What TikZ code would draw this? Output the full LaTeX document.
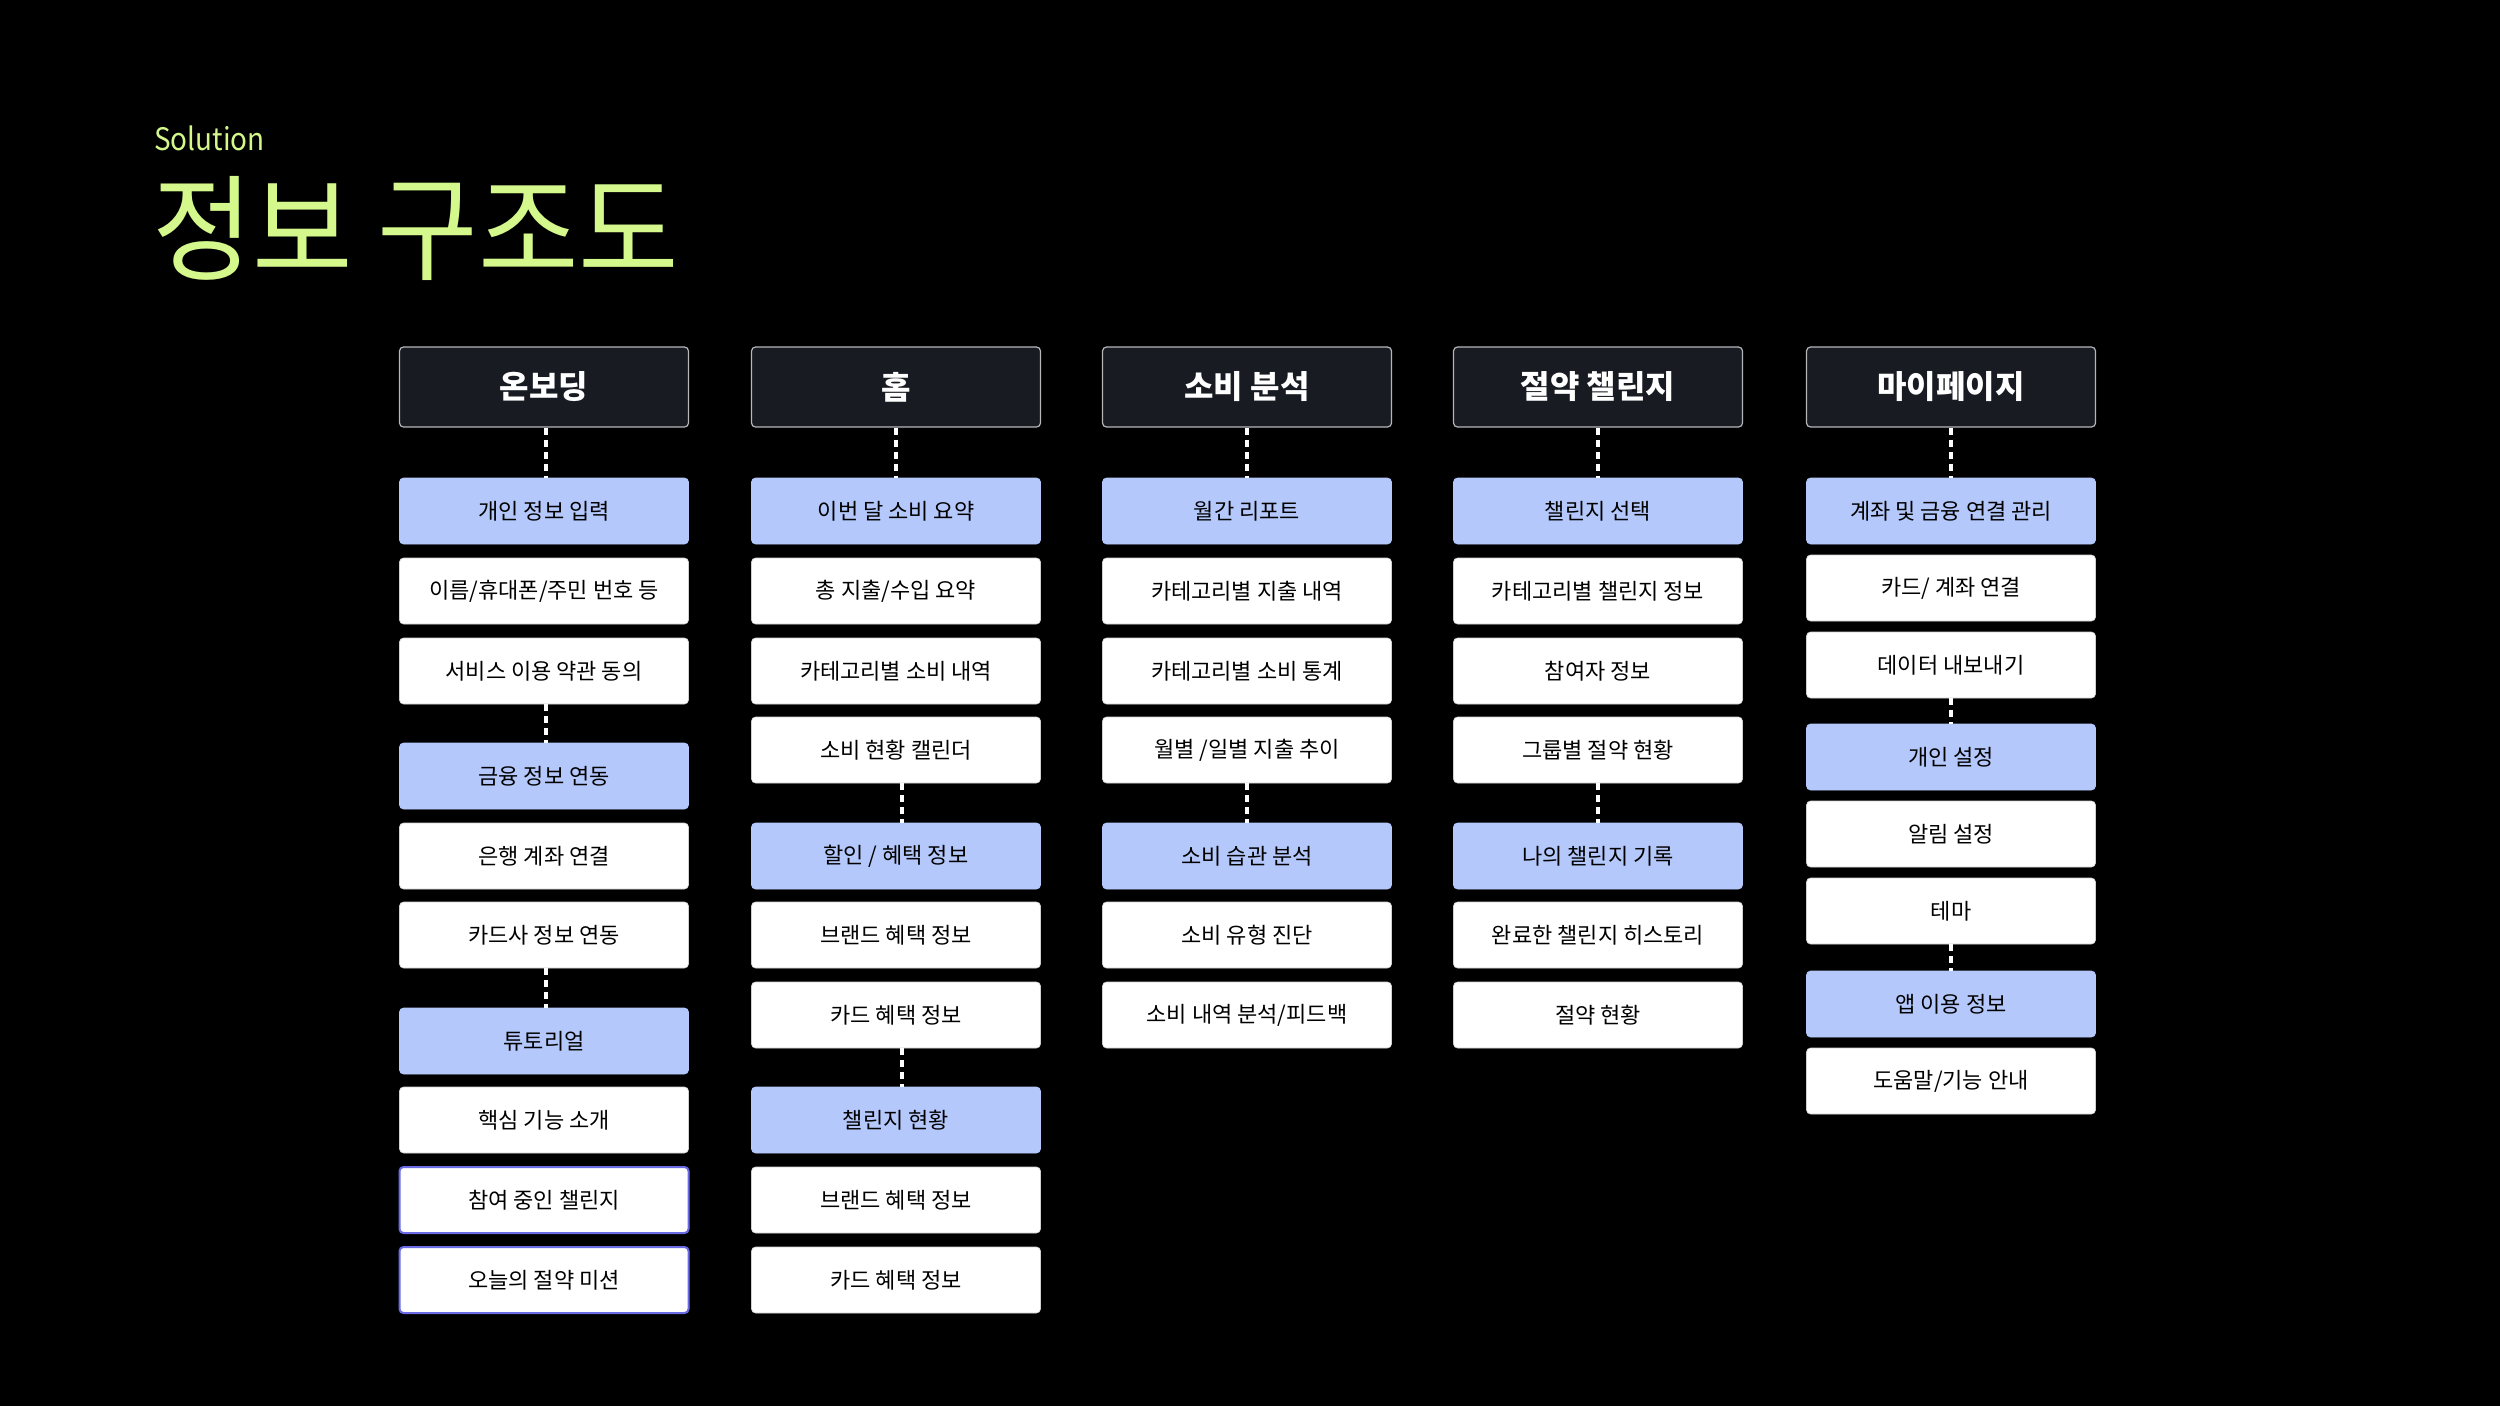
\documentclass[tikz,border=0pt]{standalone}
\usepackage{fontspec}
\setmainfont{Noto Sans CJK KR}
\begin{document}
\definecolor{lime}{HTML}{D4F88C}
\definecolor{hdrfill}{HTML}{181C22}
\definecolor{hdrline}{HTML}{B4B6BA}
\definecolor{bluefill}{HTML}{B4C8FB}
\definecolor{purpline}{HTML}{6A6CE6}
\definecolor{itemline}{HTML}{D0D0D0}
\begin{tikzpicture}[x=1pt,y=-1pt,
  hdrbox/.style={draw=hdrline,line width=1.2pt,fill=hdrfill,rounded corners=4pt,minimum width=289pt,minimum height=80pt,inner sep=0pt,text=white,font=\fontsize{32}{38}\selectfont\bfseries},
  itembox/.style={draw=itemline,line width=0.6pt,fill=white,rounded corners=4pt,minimum width=289pt,minimum height=66pt,inner sep=0pt,text=black,font=\fontsize{22}{26}\selectfont},
  bluebox/.style={itembox,fill=bluefill,draw=bluefill},
  purpbox/.style={itembox,draw=purpline,line width=2pt},
  conn/.style={draw=white,line width=3.2pt,dash pattern=on 7pt off 5pt}]
\fill[black] (0,0) rectangle (2500,1406);
\useasboundingbox (0,0) rectangle (2500,1406);
% titles
\node[anchor=base west,inner sep=0pt,text=lime,font=\fontsize{31}{38}\selectfont] (sol) at (154,150) {\scalebox{0.9}[1]{Solution}};
\node[anchor=base west,inner sep=0pt,text=lime,font=\fontsize{115}{130}\selectfont] (ttl) at (152,271) {\scalebox{0.95}[1]{정보 구조도}};
% column 1: 온보딩
\node[hdrbox] (h1) at (544,387) {온보딩};
\node[bluebox] (a1) at (544,511) {개인 정보 입력};
\node[itembox] (a2) at (544,591) {이름/휴대폰/주민 번호 등};
\node[itembox] (a3) at (544,671) {서비스 이용 약관 동의};
\node[bluebox] (a4) at (544,776) {금융 정보 연동};
\node[itembox] (a5) at (544,856) {은행 계좌 연결};
\node[itembox] (a6) at (544,935) {카드사 정보 연동};
\node[bluebox] (a7) at (544,1041) {튜토리얼};
\node[itembox] (a8) at (544,1120) {핵심 기능 소개};
\node[purpbox] (a9) at (544,1200) {참여 중인 챌린지};
\node[purpbox] (a10) at (544,1280) {오늘의 절약 미션};
\draw[conn] ([xshift=2pt]h1.south) -- ([xshift=2pt]a1.north);
\draw[conn] ([xshift=2pt]a3.south) -- ([xshift=2pt]a4.north);
\draw[conn] ([xshift=2pt]a6.south) -- ([xshift=2pt]a7.north);
% column 2: 홈
\node[hdrbox] (h2) at (896,387) {홈};
\node[bluebox] (b1) at (896,511) {이번 달 소비 요약};
\node[itembox] (b2) at (896,591) {총 지출/수입 요약};
\node[itembox] (b3) at (896,671) {카테고리별 소비 내역};
\node[itembox] (b4) at (896,750) {소비 현황 캘린더};
\node[bluebox] (b5) at (896,856) {할인 / 혜택 정보};
\node[itembox] (b6) at (896,935) {브랜드 혜택 정보};
\node[itembox] (b7) at (896,1015) {카드 혜택 정보};
\node[bluebox] (b8) at (896,1120) {챌린지 현황};
\node[itembox] (b9) at (896,1200) {브랜드 혜택 정보};
\node[itembox] (b10) at (896,1280) {카드 혜택 정보};
\draw[conn] (h2.south) -- (b1.north);
\draw[conn] ([xshift=6pt]b4.south) -- ([xshift=6pt]b5.north);
\draw[conn] ([xshift=6pt]b7.south) -- ([xshift=6pt]b8.north);
% column 3: 소비 분석
\node[hdrbox] (h3) at (1247,387) {소비 분석};
\node[bluebox] (c1) at (1247,511) {월간 리포트};
\node[itembox] (c2) at (1247,591) {카테고리별 지출 내역};
\node[itembox] (c3) at (1247,671) {카테고리별 소비 통계};
\node[itembox] (c4) at (1247,750) {월별 /일별 지출 추이};
\node[bluebox] (c5) at (1247,856) {소비 습관 분석};
\node[itembox] (c6) at (1247,935) {소비 유형 진단};
\node[itembox] (c7) at (1247,1015) {소비 내역 분석/피드백};
\draw[conn] (h3.south) -- (c1.north);
\draw[conn] (c4.south) -- (c5.north);
% column 4: 절약 챌린지
\node[hdrbox] (h4) at (1598,387) {절약 챌린지};
\node[bluebox] (d1) at (1598,511) {챌린지 선택};
\node[itembox] (d2) at (1598,591) {카테고리별 챌린지 정보};
\node[itembox] (d3) at (1598,671) {참여자 정보};
\node[itembox] (d4) at (1598,750) {그룹별 절약 현황};
\node[bluebox] (d5) at (1598,856) {나의 챌린지 기록};
\node[itembox] (d6) at (1598,935) {완료한 챌린지 히스토리};
\node[itembox] (d7) at (1598,1015) {절약 현황};
\draw[conn] (h4.south) -- (d1.north);
\draw[conn] (d4.south) -- (d5.north);
% column 5: 마이페이지
\node[hdrbox] (h5) at (1951,387) {마이페이지};
\node[bluebox] (e1) at (1951,511) {계좌 및 금융 연결 관리};
\node[itembox] (e2) at (1951,588) {카드/ 계좌 연결};
\node[itembox] (e3) at (1951,665) {데이터 내보내기};
\node[bluebox] (e4) at (1951,757) {개인 설정};
\node[itembox] (e5) at (1951,834) {알림 설정};
\node[itembox] (e6) at (1951,911) {테마};
\node[bluebox] (e7) at (1951,1004) {앱 이용 정보};
\node[itembox] (e8) at (1951,1081) {도움말/기능 안내};
\draw[conn] (h5.south) -- (e1.north);
\draw[conn] (e3.south) -- (e4.north);
\draw[conn] (e6.south) -- (e7.north);
\end{tikzpicture}
\end{document}
